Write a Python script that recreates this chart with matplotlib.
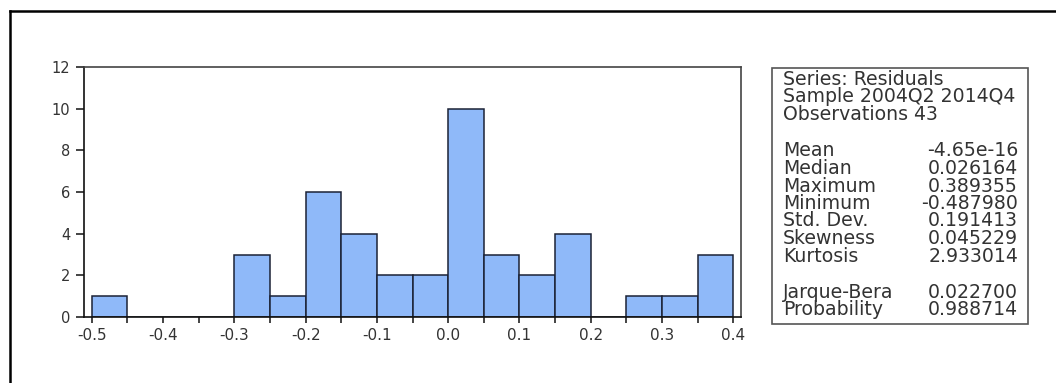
import numpy as np
import matplotlib.pyplot as plt
from matplotlib.lines import Line2D
from matplotlib.patches import Rectangle

# histogram of residuals, bins of width 0.05
bin_start = -0.5
bin_width = 0.05
counts = [1, 0, 0, 0, 3, 1, 6, 4, 2, 2, 10, 3, 2, 4, 0, 1, 1, 3]

x_ticks = [-0.5, -0.4, -0.3, -0.2, -0.1, 0.0, 0.1, 0.2, 0.3, 0.4]
y_ticks = [0, 2, 4, 6, 8, 10, 12]

stat_header = ["Series: Residuals", "Sample 2004Q2 2014Q4", "Observations 43"]
stat_names = ["Mean", "Median", "Maximum", "Minimum", "Std. Dev.", "Skewness", "Kurtosis"]
stat_values = ["-4.65e-16", "0.026164", "0.389355", "-0.487980", "0.191413", "0.045229", "2.933014"]
test_names = ["Jarque-Bera", "Probability"]
test_values = ["0.022700", "0.988714"]

W, H = 1056, 383
plt.rcParams['font.family'] = ['DejaVu Sans']
fig = plt.figure(figsize=(W / 100, H / 100), dpi=100)

def fx(px):
    return px / W

def fy(py):
    return 1 - py / H

ax = fig.add_axes([fx(84), fy(317), fx(741) - fx(84), fy(67) - fy(317)])

lefts = bin_start + bin_width * np.arange(len(counts))
ax.bar(lefts, counts, width=bin_width, align='edge',
       color='#8fb9f9', edgecolor='#1b2236', linewidth=1.1)

ax.set_xlim(-0.511, 0.411)
ax.set_ylim(0, 12)
ax.set_xticks(x_ticks)
ax.set_xticklabels([f"{v:.1f}" for v in x_ticks])
ax.set_xticks(np.array(x_ticks[:-1]) + 0.05, minor=True)
ax.set_yticks(y_ticks)

ax.tick_params(axis='x', which='both', length=4, width=1.1, pad=4,
               labelsize=11, colors='#111', labelcolor='#333')
ax.tick_params(axis='y', length=6, width=1.1, pad=4,
               labelsize=10.5, colors='#111', labelcolor='#333')

for side in ['top', 'right']:
    ax.spines[side].set_color('#444')
    ax.spines[side].set_linewidth(1.2)
ax.spines['bottom'].set_color('#111')
ax.spines['left'].set_color('#111')
ax.spines['bottom'].set_linewidth(1.2)
ax.spines['left'].set_linewidth(1.2)

# statistics box
fig.add_artist(Rectangle((fx(772), fy(324)), fx(1028) - fx(772), fy(68) - fy(324),
                         transform=fig.transFigure, fill=False,
                         edgecolor='#555', linewidth=1.2))

txt = dict(fontsize=13.6, color='#333', va='baseline')
line_y = [85, 102.5, 120]
for y, s in zip(line_y, stat_header):
    fig.text(fx(783), fy(y), s, ha='left', **txt)

stat_y = [156, 174, 191.5, 209, 226.5, 244.5, 262.5]
for y, n, v in zip(stat_y, stat_names, stat_values):
    fig.text(fx(783), fy(y), n, ha='left', **txt)
    fig.text(fx(1018), fy(y), v, ha='right', **txt)

test_y = [298, 315]
for y, n, v in zip(test_y, test_names, test_values):
    fig.text(fx(783), fy(y), n, ha='left', **txt)
    fig.text(fx(1018), fy(y), v, ha='right', **txt)

# frame along the left and top edges
fig.add_artist(Line2D([fx(10), fx(10)], [0, fy(11)], transform=fig.transFigure,
                      color='black', linewidth=1.8))
fig.add_artist(Line2D([fx(10), 1], [fy(11), fy(11)], transform=fig.transFigure,
                      color='black', linewidth=1.8))

fig.savefig("out.png", dpi=100)
